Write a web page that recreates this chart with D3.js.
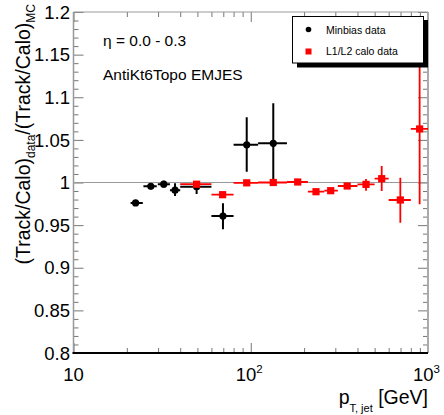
<!DOCTYPE html>
<html>
<head>
<meta charset="utf-8">
<script src="https://cdn.jsdelivr.net/npm/d3@7"></script>
<style>
  html, body { margin: 0; padding: 0; background: #fff; }
  svg { display: block; font-family: "Liberation Sans", Arial, Helvetica, sans-serif; }
</style>
</head>
<body>
<svg id="chart" width="444" height="415"></svg>
<script>
// Minbias data: jet pT bin centre, bin edges, ratio and its error band
const minbiasPt    = [22.4, 27.3, 32.3, 37.4, 49.5, 69.7, 94.9, 134];
const minbiasPtLo  = [21, 24.8, 29.9, 35, 40, 60, 80, 110];
const minbiasPtHi  = [24.6, 29.5, 35, 40, 60, 80, 110, 160];
const minbiasRatio = [0.976, 0.9955, 0.998, 0.991, 0.995, 0.9607, 1.0443, 1.046];
const minbiasLo    = [0.973, 0.993, 0.994, 0.9842, 0.9865, 0.9451, 1.0127, 1.0009];
const minbiasHi    = [0.979, 0.998, 1.002, 0.9991, 0.998, 0.9756, 1.0765, 1.0929];

// L1/L2 calo data
const caloPt    = [49.5, 69.4, 94.9, 134, 184, 233.4, 282.5, 350, 447, 548, 698, 897];
const caloPtLo  = [40, 60, 80, 110, 160, 210, 260, 310, 400, 500, 600, 800];
const caloPtHi  = [60, 80, 110, 160, 210, 260, 310, 400, 500, 600, 800, 1000];
const caloRatio = [0.998, 0.9857, 0.9996, 1.0, 1.0006, 0.9892, 0.9904, 0.9959, 0.9978, 1.0045, 0.9795, 1.0628];
const caloLo    = [0.996, 0.984, 0.998, 0.998, 0.999, 0.987, 0.988, 0.993, 0.9904, 0.99, 0.9528, 0.9744];
const caloHi    = [1.0, 0.9875, 1.001, 1.002, 1.002, 0.991, 0.992, 0.998, 1.0041, 1.0194, 1.0056, 1.152];

// Axis ticks and labels
const xMajorTicks = [10, 100, 1000];
const xTickBase   = ["10", "10", "10"];
const xTickExp    = ["", "2", "3"];
const yMajorTicks = [0.8, 0.85, 0.9, 0.95, 1.0, 1.05, 1.1, 1.15, 1.2];
const yTickLabels = ["0.8", "0.85", "0.9", "0.95", "1", "1.05", "1.1", "1.15", "1.2"];
const refLevel = 1.0;

const seriesNames = ["Minbias data", "L1/L2 calo data"];
const textEta = "η = 0.0 - 0.3";
const textAlgo = "AntiKt6Topo EMJES";

const svg = d3.select("#chart");
const L = 73.5, R = 428, T = 12, B = 353;

const x = d3.scaleLog().domain([10, 1000]).range([L, R]);
const y = d3.scaleLinear().domain([0.8, 1.2]).range([B, T]);

// minor ticks
const xMinor = [];
for (const dec of [10, 100]) for (let k = 2; k <= 9; k++) xMinor.push(dec * k);
const yMinor = d3.range(80, 121).map(v => v / 100).filter(v => Math.abs(v * 20 - Math.round(v * 20)) > 1e-6);

const frame = svg.append("g");
const tickColor = "#777";

// bottom axis (ticks pointing inward)
frame.append("g").attr("transform", `translate(0,${B})`)
  .call(d3.axisBottom(x).tickValues(xMajorTicks).tickSize(-10).tickFormat(""))
  .call(g => g.select(".domain").remove());
frame.append("g").attr("transform", `translate(0,${B})`)
  .call(d3.axisBottom(x).tickValues(xMinor).tickSize(-5).tickFormat(""))
  .call(g => g.select(".domain").remove());
// top axis
frame.append("g").attr("transform", `translate(0,${T})`)
  .call(d3.axisTop(x).tickValues(xMajorTicks).tickSize(-10).tickFormat(""))
  .call(g => g.select(".domain").remove());
frame.append("g").attr("transform", `translate(0,${T})`)
  .call(d3.axisTop(x).tickValues(xMinor).tickSize(-5).tickFormat(""))
  .call(g => g.select(".domain").remove());
// left axis
frame.append("g").attr("transform", `translate(${L},0)`)
  .call(d3.axisLeft(y).tickValues(yMajorTicks).tickSize(-10).tickFormat(""))
  .call(g => g.select(".domain").remove());
frame.append("g").attr("transform", `translate(${L},0)`)
  .call(d3.axisLeft(y).tickValues(yMinor).tickSize(-5).tickFormat(""))
  .call(g => g.select(".domain").remove());
// right axis
frame.append("g").attr("transform", `translate(${R},0)`)
  .call(d3.axisRight(y).tickValues(yMajorTicks).tickSize(-10).tickFormat(""))
  .call(g => g.select(".domain").remove());
frame.append("g").attr("transform", `translate(${R},0)`)
  .call(d3.axisRight(y).tickValues(yMinor).tickSize(-5).tickFormat(""))
  .call(g => g.select(".domain").remove());
frame.selectAll(".tick line").attr("stroke", tickColor).attr("stroke-width", 1);

// frame lines
frame.append("line").attr("x1", L).attr("x2", L).attr("y1", T).attr("y2", B)
  .attr("stroke", "#999").attr("stroke-width", 1.5);
frame.append("line").attr("x1", R).attr("x2", R).attr("y1", T).attr("y2", B)
  .attr("stroke", "#aaa").attr("stroke-width", 2);
frame.append("line").attr("x1", L).attr("x2", R).attr("y1", T).attr("y2", T)
  .attr("stroke", "#999").attr("stroke-width", 1);
frame.append("line").attr("x1", L - 1).attr("x2", R).attr("y1", B).attr("y2", B)
  .attr("stroke", "#000").attr("stroke-width", 2);

// y tick labels
svg.append("g").selectAll("text").data(yMajorTicks).join("text")
  .attr("x", 70).attr("y", d => y(d)).attr("dy", "0.36em")
  .attr("text-anchor", "end").attr("font-size", 18.5).attr("fill", "#000")
  .text((d, i) => yTickLabels[i]);

// x tick labels (powers of ten)
const xl = svg.append("g").selectAll("text").data(xMajorTicks).join("text")
  .attr("x", (d, i) => x(d) - (xTickExp[i] ? 1.5 : 0)).attr("y", 381)
  .attr("text-anchor", "middle").attr("font-size", 18.5).attr("fill", "#000");
xl.append("tspan").text((d, i) => xTickBase[i]);
xl.append("tspan").attr("dy", -8).attr("font-size", 11.5).text((d, i) => xTickExp[i]);

// reference line at unity
svg.append("line").attr("x1", L).attr("x2", R).attr("y1", y(refLevel)).attr("y2", y(refLevel))
  .attr("stroke", "#999").attr("stroke-width", 1);

const plot = svg.append("g");
plot.append("clipPath").attr("id", "clip").append("rect")
  .attr("x", L).attr("y", T).attr("width", R - L).attr("height", B - T);
const pg = plot.append("g").attr("clip-path", "url(#clip)");

function drawSeries(pts, color, width) {
  const g = pg.append("g").attr("stroke", color).attr("stroke-width", width);
  g.selectAll("line.h").data(pts).join("line").attr("class", "h")
    .attr("x1", d => x(d.lo)).attr("x2", d => x(d.hi))
    .attr("y1", d => y(d.v)).attr("y2", d => y(d.v));
  g.selectAll("line.v").data(pts).join("line").attr("class", "v")
    .attr("x1", d => x(d.pt)).attr("x2", d => x(d.pt))
    .attr("y1", d => y(d.eLo)).attr("y2", d => y(d.eHi));
  return g;
}

const minbias = minbiasPt.map((pt, i) => ({
  pt, lo: minbiasPtLo[i], hi: minbiasPtHi[i], v: minbiasRatio[i], eLo: minbiasLo[i], eHi: minbiasHi[i]
}));
const calo = caloPt.map((pt, i) => ({
  pt, lo: caloPtLo[i], hi: caloPtHi[i], v: caloRatio[i], eLo: caloLo[i], eHi: caloHi[i]
}));

drawSeries(minbias, "#000", 2);
pg.append("g").selectAll("circle").data(minbias).join("circle")
  .attr("cx", d => x(d.pt)).attr("cy", d => y(d.v)).attr("r", 3.6).attr("fill", "#000");

drawSeries(calo, "#ff0000", 1.8);
pg.append("g").selectAll("rect").data(calo).join("rect")
  .attr("x", d => x(d.pt) - 3.6).attr("y", d => y(d.v) - 3.6)
  .attr("width", 7.2).attr("height", 7.2).attr("fill", "#ff0000");

// annotations
svg.append("text").attr("x", 103).attr("y", 45.5).attr("font-size", 15.5).text(textEta);
svg.append("text").attr("x", 103).attr("y", 80).attr("font-size", 15.5).text(textAlgo);

// legend with drop shadow
const lg = svg.append("g");
lg.append("rect").attr("x", 297).attr("y", 20).attr("width", 131).attr("height", 47.5).attr("fill", "#000");
lg.append("rect").attr("x", 292.5).attr("y", 16.5).attr("width", 131).attr("height", 46.5)
  .attr("fill", "#fff").attr("stroke", "#000").attr("stroke-width", 1);
lg.append("circle").attr("cx", 308.5).attr("cy", 29.5).attr("r", 2.8).attr("fill", "#000");
lg.append("rect").attr("x", 305.5).attr("y", 48.5).attr("width", 6).attr("height", 6).attr("fill", "#ff0000");
lg.append("text").attr("x", 326).attr("y", 33.5).attr("font-size", 10.5).text(seriesNames[0]);
lg.append("text").attr("x", 326).attr("y", 55).attr("font-size", 10.5).text(seriesNames[1]);

// axis titles
const yt = svg.append("text").attr("transform", "translate(30,4) rotate(-90)")
  .attr("text-anchor", "end").attr("font-size", 19.5);
yt.append("tspan").text("(Track/Calo)");
yt.append("tspan").attr("dy", 5).attr("font-size", 12).text("data");
yt.append("tspan").attr("dy", -5).text("/(Track/Calo)");
yt.append("tspan").attr("dy", 5).attr("font-size", 12).text("MC");

const xt = svg.append("text").attr("x", 428).attr("y", 404)
  .attr("text-anchor", "end").attr("font-size", 19.5);
xt.append("tspan").text("p");
xt.append("tspan").attr("dy", 8).attr("font-size", 11).text("T, jet");
xt.append("tspan").attr("dy", -8).text(" [GeV]");
</script>
</body>
</html>
